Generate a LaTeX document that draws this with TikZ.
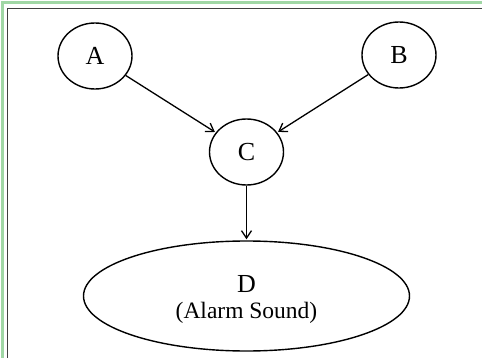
\documentclass[tikz,border=0pt]{standalone}
\usepackage{fontspec}
\setmainfont{Liberation Serif}
\usetikzlibrary{shapes.geometric,arrows.meta}
\begin{document}
\begin{tikzpicture}[x=1pt,y=-1pt,
  var/.style={draw=black,line width=1.4pt,ellipse,inner sep=0pt,font=\fontsize{26}{29}\selectfont},
  link/.style={draw=black,line width=1.3pt,-{Straight Barb[length=7.5pt,width=10pt,line width=1.3pt]},shorten >=1pt}]
  \useasboundingbox (0,0) rectangle (482,358);
  % framing lines (open at right and bottom)
  \draw[draw={rgb,255:red,160;green,215;blue,165},line width=2.5pt] (2.5,358) -- (2.5,2.5) -- (482,2.5);
  \draw[draw=black!75,line width=1.4pt] (7.2,358) -- (7.2,8.5) -- (482,8.5);
  % nodes
  \node[var,minimum width=74pt,minimum height=66pt] (A) at (95,56) {A};
  \node[var,minimum width=74pt,minimum height=66pt] (B) at (399,55) {B};
  \node[var,minimum width=74pt,minimum height=66pt] (C) at (246.5,152) {C};
  \node[var,minimum width=326pt,minimum height=110pt] (D) at (246.5,296) {};
  \node[font=\fontsize{26}{29}\selectfont] (Dl) at (246.5,284) {D};
  \node[font=\fontsize{23.5}{27}\selectfont] (Ds) at (246.5,313) {(Alarm Sound)};
  % connectors
  \draw[link] (A) -- (C);
  \draw[link] (B) -- (C);
  \draw[link] (C) -- (D);
\end{tikzpicture}
\end{document}
